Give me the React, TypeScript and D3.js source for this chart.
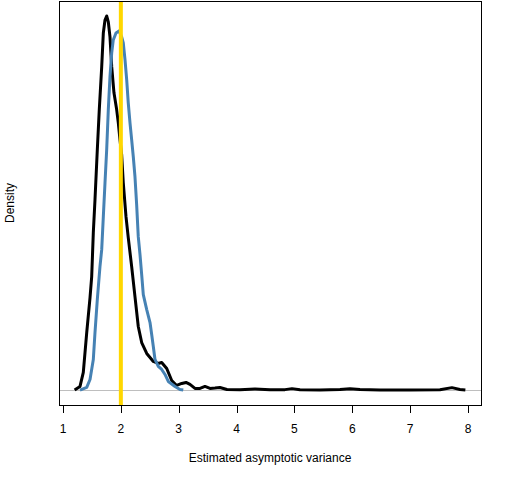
import * as d3 from 'd3';

// Kernel density of the estimated asymptotic variance
const blackX = [1.201, 1.294, 1.351, 1.41, 1.467, 1.496, 1.524, 1.553, 1.593, 1.627, 1.669, 1.697, 1.726, 1.755, 1.783, 1.812, 1.842, 1.881, 1.928, 1.956, 1.985, 2.014, 2.042, 2.089, 2.128, 2.187, 2.244, 2.301, 2.36, 2.447, 2.561, 2.642, 2.706, 2.793, 2.879, 2.965, 3.052, 3.126, 3.195, 3.281, 3.368, 3.454, 3.541, 3.627, 3.713, 3.834, 4.059, 4.318, 4.578, 4.837, 4.958, 5.096, 5.442, 5.788, 5.96, 6.133, 6.479, 6.997, 7.516, 7.723, 7.861, 7.955];
const blackY = [0, 0.018, 0.088, 0.288, 0.463, 0.568, 0.788, 0.953, 1.203, 1.403, 1.618, 1.788, 1.853, 1.873, 1.843, 1.768, 1.618, 1.488, 1.403, 1.338, 1.253, 1.178, 1.038, 0.868, 0.763, 0.618, 0.468, 0.318, 0.238, 0.183, 0.143, 0.133, 0.138, 0.108, 0.048, 0.023, 0.033, 0.038, 0.028, 0.008, 0.008, 0.018, 0.008, 0.01, 0.013, 0.003, 0.002, 0.005, 0.001, 0.002, 0.007, 0.001, 0, 0.003, 0.007, 0.003, 0, 0, 0.001, 0.012, 0.003, 0];

const blueX = [1.294, 1.41, 1.467, 1.524, 1.553, 1.593, 1.639, 1.669, 1.697, 1.726, 1.755, 1.783, 1.812, 1.842, 1.869, 1.916, 1.968, 2.014, 2.042, 2.072, 2.101, 2.128, 2.158, 2.187, 2.215, 2.244, 2.273, 2.301, 2.331, 2.36, 2.388, 2.447, 2.504, 2.533, 2.561, 2.59, 2.647, 2.706, 2.763, 2.82, 2.936, 3.022, 3.079];
const blueY = [0, 0.013, 0.053, 0.153, 0.288, 0.453, 0.618, 0.703, 0.868, 1.038, 1.203, 1.403, 1.568, 1.688, 1.753, 1.788, 1.798, 1.768, 1.738, 1.653, 1.553, 1.438, 1.338, 1.253, 1.168, 1.068, 0.928, 0.768, 0.678, 0.578, 0.478, 0.403, 0.338, 0.278, 0.218, 0.153, 0.118, 0.103, 0.078, 0.043, 0.018, 0.003, 0];

const xTicks = [1, 2, 3, 4, 5, 6, 7, 8];
const trueValue = 2;

const W = 512;
const H = 480;
const plot = { left: 59, right: 481, top: 1, bottom: 405 };

export default function App() {
  const xMin = d3.min(blackX) as number;
  const xMax = d3.max(blackX) as number;
  const xPad = (xMax - xMin) * 0.04;
  const yMax = d3.max(blackY) as number;

  const x = d3.scaleLinear().domain([xMin - xPad, xMax + xPad]).range([plot.left, plot.right]);
  const y = d3.scaleLinear().domain([-0.04 * yMax, 1.04 * yMax]).range([plot.bottom, plot.top]);

  const line = d3.line<[number, number]>().x(d => x(d[0])).y(d => y(d[1]));
  const blackPath = line(blackX.map((v, i) => [v, blackY[i]]) as [number, number][]) || '';
  const bluePath = line(blueX.map((v, i) => [v, blueY[i]]) as [number, number][]) || '';

  const font = 'Liberation Sans, Arial, sans-serif';

  return (
    <svg width={W} height={H} style={{ position: 'absolute', left: 0, top: 0, background: '#fff' }} fontFamily={font}>
      {/* zero line */}
      <line x1={plot.left} x2={plot.right} y1={Math.round(y(0)) + 0.5} y2={Math.round(y(0)) + 0.5} stroke="#BEBEBE" strokeWidth={1} />
      <path d={blackPath} fill="none" stroke="#000" strokeWidth={3} strokeLinejoin="round" />
      <path d={bluePath} fill="none" stroke="#4682B4" strokeWidth={3} strokeLinejoin="round" />
      {/* true value */}
      <line x1={x(trueValue)} x2={x(trueValue)} y1={plot.top} y2={plot.bottom} stroke="#FFD700" strokeWidth={4} />
      <rect x={plot.left + 0.5} y={plot.top + 0.5} width={plot.right - plot.left} height={plot.bottom - plot.top} fill="none" stroke="#000" strokeWidth={1} />

      {/* x axis */}
      <line x1={x(xTicks[0])} x2={x(xTicks[xTicks.length - 1])} y1={plot.bottom + 0.5} y2={plot.bottom + 0.5} stroke="#000" />
      {xTicks.map(t => (
        <g key={t}>
          <line x1={Math.round(x(t)) + 0.5} x2={Math.round(x(t)) + 0.5} y1={plot.bottom} y2={plot.bottom + 8} stroke="#000" />
          <text x={x(t)} y={433} textAnchor="middle" fontSize={12} fill="#000">{t}</text>
        </g>
      ))}
      <text x={(plot.left + plot.right) / 2} y={462} textAnchor="middle" fontSize={12} fill="#000">Estimated asymptotic variance</text>
      <text transform={`translate(14,${(plot.top + plot.bottom) / 2}) rotate(-90)`} textAnchor="middle" fontSize={12} fill="#000">Density</text>
    </svg>
  );
}
